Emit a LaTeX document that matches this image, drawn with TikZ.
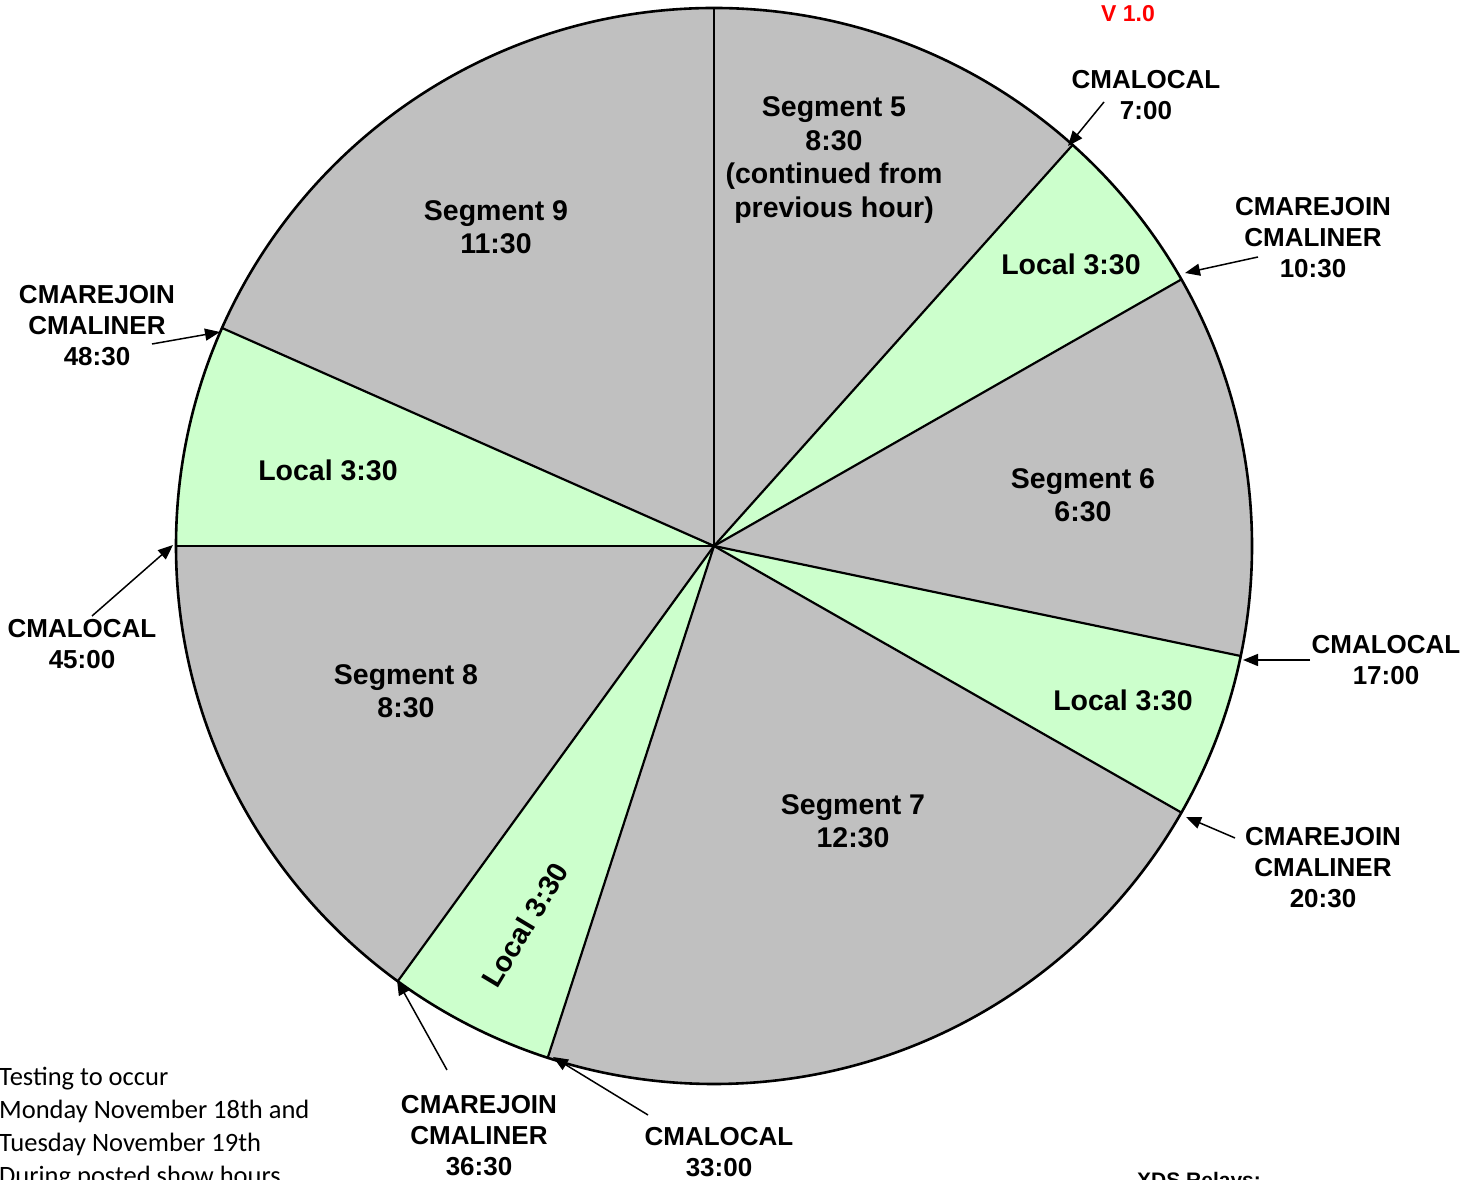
\documentclass[tikz,border=0pt]{standalone}
\usepackage{fontspec}
\setmainfont{Liberation Sans}
\newfontfamily\calibrifont{Carlito}
\usetikzlibrary{arrows.meta}
\definecolor{segGray}{HTML}{C0C0C0}
\definecolor{locGreen}{HTML}{CCFFCC}
\begin{document}
\begin{tikzpicture}[x=1pt,y=1pt,
  seg/.style={font=\fontsize{28.5}{33.5}\selectfont\bfseries, align=center, inner sep=0pt},
  lbl/.style={font=\fontsize{26}{31}\selectfont\bfseries, align=center, inner sep=0pt},
  pointer/.style={-{Triangle[length=15pt,width=12pt]}, line width=1.5pt},
  radial/.style={line width=2.2pt},
  rim/.style={line width=2.6pt}]
\useasboundingbox (0,0) rectangle (1478,1180);
\begin{scope}[shift={(714,634)}]
  \coordinate (c) at (0,0);
  % wedges
  \fill[segGray]  (c) -- (90:538pt)    arc[start angle=90,    end angle=48.2,   radius=538pt] -- cycle;
  \fill[locGreen] (c) -- (48.2:538pt)  arc[start angle=48.2,  end angle=29.7,   radius=538pt] -- cycle;
  \fill[segGray]  (c) -- (29.7:538pt)  arc[start angle=29.7,  end angle=-11.8,  radius=538pt] -- cycle;
  \fill[locGreen] (c) -- (-11.8:538pt) arc[start angle=-11.8, end angle=-29.7,  radius=538pt] -- cycle;
  \fill[segGray]  (c) -- (-29.7:538pt) arc[start angle=-29.7, end angle=-108,   radius=538pt] -- cycle;
  \fill[locGreen] (c) -- (-108:538pt)  arc[start angle=-108,  end angle=-126,   radius=538pt] -- cycle;
  \fill[segGray]  (c) -- (-126:538pt)  arc[start angle=-126,  end angle=-180,   radius=538pt] -- cycle;
  \fill[locGreen] (c) -- (180:538pt)   arc[start angle=180,   end angle=156.1,  radius=538pt] -- cycle;
  \fill[segGray]  (c) -- (156.1:538pt) arc[start angle=156.1, end angle=90,     radius=538pt] -- cycle;
  % boundaries
  \foreach \a in {90,48.2,29.7,-11.8,-29.7,-108,-126,180,156.1}
    \draw[radial] (c) -- (\a:538pt);
  \draw[rim] (c) circle[radius=538pt];
\end{scope}

% segment labels
\node[seg] (s5) at (834,1020) {Segment 5\\8:30\\(continued from\\previous hour)};
\node[seg] (s9) at (496,953) {Segment 9\\11:30};
\node[seg] (loc1) at (1071,916) {Local 3:30};
\node[seg] (s6) at (1083,685) {Segment 6\\6:30};
\node[seg] (loc2) at (1123,480) {Local 3:30};
\node[seg] (s7) at (853,359) {Segment 7\\12:30};
\node[seg, rotate=59] (loc3) at (525,255) {Local 3:30};
\node[seg] (s8) at (406,489) {Segment 8\\8:30};
\node[seg] (loc4) at (328,710) {Local 3:30};

% callout labels
\node[lbl] (l700)  at (1146,1085) {CMALOCAL\\7:00};
\node[lbl] (l1030) at (1313,942)  {CMAREJOIN\\CMALINER\\10:30};
\node[lbl] (l4830) at (97,854)    {CMAREJOIN\\CMALINER\\48:30};
\node[lbl] (l4500) at (82,536)    {CMALOCAL\\45:00};
\node[lbl] (l1700) at (1386,520)  {CMALOCAL\\17:00};
\node[lbl] (l2030) at (1323,312)  {CMAREJOIN\\CMALINER\\20:30};
\node[lbl] (l3630) at (479,44)    {CMAREJOIN\\CMALINER\\36:30};
\node[lbl] (l3300) at (719,28)    {CMALOCAL\\33:00};

% pointer ends
\coordinate (a700)  at (1104,1078); \coordinate (t700)  at (1068,1034);
\coordinate (a1030) at (1258,923);  \coordinate (t1030) at (1185,907);
\coordinate (a4830) at (152,836);   \coordinate (t4830) at (220,848);
\coordinate (a4500) at (92,564);    \coordinate (t4500) at (173,635);
\coordinate (a1700) at (1310,520);  \coordinate (t1700) at (1243,520);
\coordinate (a2030) at (1235,342);  \coordinate (t2030) at (1186,363);
\coordinate (a3630) at (447,110);   \coordinate (t3630) at (397,200);
\coordinate (a3300) at (648,65);    \coordinate (t3300) at (553,123);
\foreach \k in {700,1030,4830,4500,1700,2030,3630,3300}
  \draw[pointer] (a\k) -- (t\k);

% other texts
\node[font=\fontsize{23}{27}\selectfont\bfseries, text=red, inner sep=0pt] (ver) at (1128,1166) {V 1.0};
\node[font=\calibrifont\fontsize{26.5}{33}\selectfont, align=left, anchor=north west, inner sep=0pt] (test) at (-1,113)
  {Testing to occur\\Monday November 18th and\\Tuesday November 19th\\During posted show hours};
\node[font=\fontsize{21}{25}\selectfont\bfseries, anchor=north west, inner sep=0pt] (xds) at (1137,8) {XDS Relays:};
\end{tikzpicture}
\end{document}
